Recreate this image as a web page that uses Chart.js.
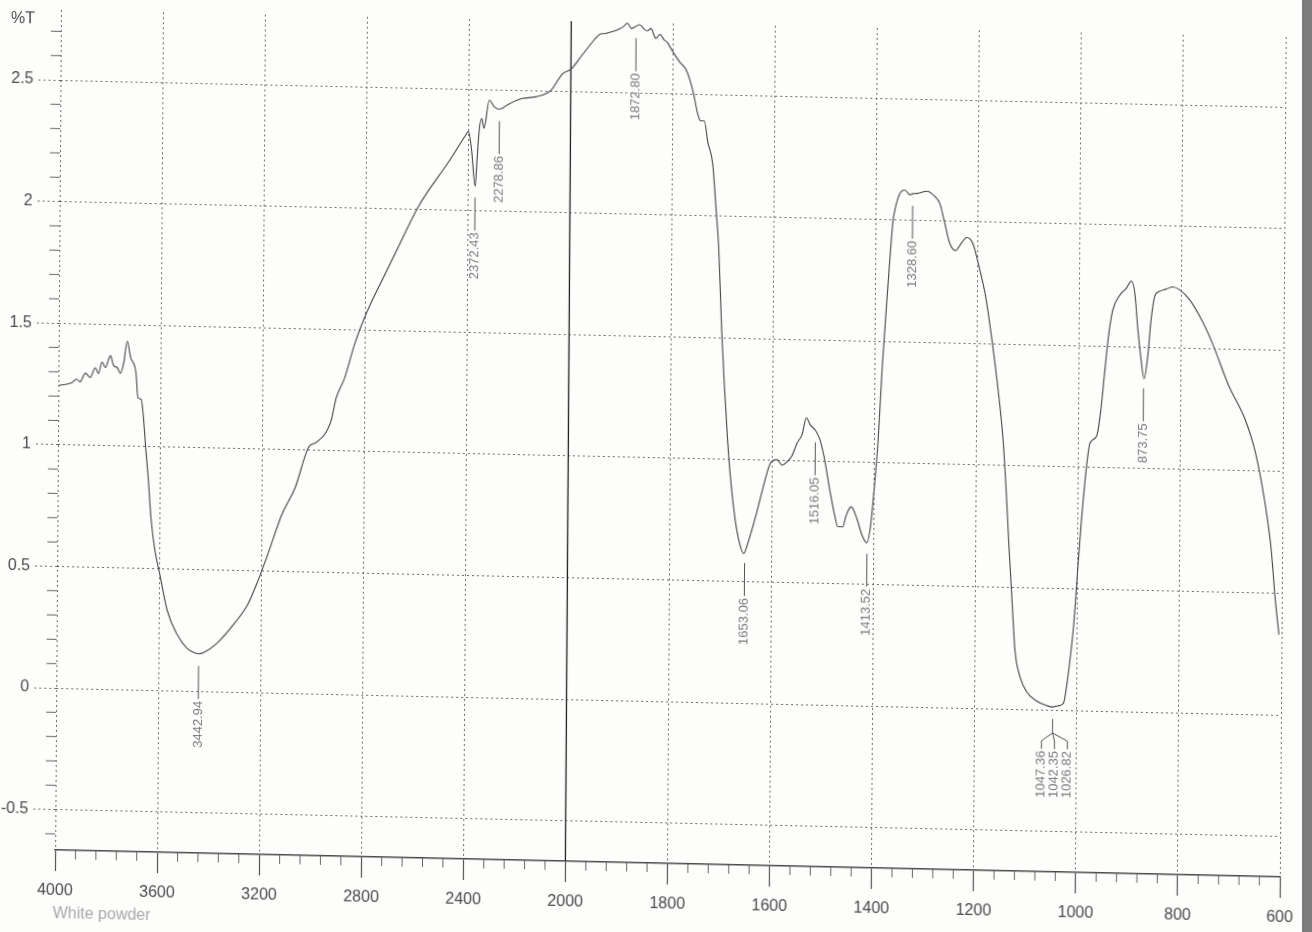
<!DOCTYPE html>
<html>
<head>
<meta charset="utf-8">
<title>IR spectrum</title>
<script src="https://cdn.jsdelivr.net/npm/chart.js@4.4.0/dist/chart.umd.min.js"></script>
<style>
    html, body { margin: 0; padding: 0; background: #fff; overflow: hidden; }
    #wrap { position: relative; width: 1312px; height: 932px; overflow: hidden; background: #fdfdfc; }
    /* 扫描件略有倾斜 */
    #spectrum { position: absolute; left: 0; top: 0; transform-origin: 61px 10px; transform: rotate(0.4deg) skewY(0.86deg); }
    #edge { position: absolute; right: 0; top: 0; width: 10px; height: 932px; background: #7c7c7c; }
</style>
</head>
<body>
<div id="wrap">
    <canvas id="spectrum" width="1312" height="932"></canvas>
    <div id="edge"></div>
</div>
<script>
// 波数 (cm-1)
const wavenumbers = [
    4000, 3948, 3928, 3915, 3895, 3875, 3856, 3843, 3830, 3816, 3797, 3784, 3770, 3757, 3745, 3731, 3718,
    3696, 3688, 3675, 3666, 3656, 3646, 3633, 3617, 3600, 3567, 3528, 3489, 3456, 3443, 3423, 3370, 3305,
    3252, 3213, 3174, 3121, 3069, 3016, 2990, 2931, 2911, 2879, 2839, 2793, 2728, 2662, 2590, 2476, 2410,
    2400, 2387, 2372, 2366, 2358, 2348, 2339, 2319, 2300, 2280, 2241, 2189, 2137, 2078, 2033, 2000, 1980,
    1955, 1944, 1935, 1918, 1906, 1898, 1890, 1882, 1874, 1866, 1857, 1851, 1844, 1834, 1826, 1818, 1812,
    1800, 1787, 1774, 1761, 1750, 1745, 1738, 1731, 1721, 1714, 1708, 1701, 1695, 1688, 1682, 1672, 1664,
    1655, 1646, 1630, 1614, 1604, 1591, 1581, 1571, 1562, 1552, 1542, 1534, 1526, 1516, 1507, 1497, 1487,
    1477, 1471, 1461, 1455, 1445, 1433, 1424, 1414, 1407, 1401, 1393, 1386, 1377, 1367, 1363, 1353, 1344,
    1334, 1328, 1321, 1301, 1285, 1275, 1265, 1256, 1244, 1233, 1222, 1210, 1197, 1184, 1171, 1158, 1148,
    1141, 1135, 1128, 1122, 1112, 1099, 1079, 1059, 1047, 1042, 1035, 1026, 1020, 1014, 1007, 1001, 994,
    984, 978, 965, 958, 948, 942, 935, 922, 909, 899, 892, 886, 879, 873, 866, 860, 853, 844, 831, 818, 805,
    785, 759, 739, 707, 674, 654, 635, 622, 612, 605
];

// 透过率 %T
const transmittance = [
    1.244, 1.256, 1.272, 1.261, 1.297, 1.28, 1.32, 1.297, 1.345, 1.322, 1.371, 1.331, 1.323, 1.30, 1.34, 1.432, 1.367,
    1.302, 1.20, 1.195, 1.123, 0.994, 0.88, 0.702, 0.573, 0.49, 0.328, 0.231, 0.175, 0.156, 0.153, 0.159, 0.200, 0.28,
    0.361, 0.458, 0.571, 0.733, 0.846, 1.016, 1.032, 1.121, 1.218, 1.299, 1.445, 1.574, 1.72, 1.866, 2.02, 2.20, 2.311,
    2.326, 2.248, 2.10, 2.20, 2.33, 2.38, 2.34, 2.456, 2.43, 2.42, 2.443, 2.466, 2.474, 2.502, 2.571, 2.59, 2.645,
    2.713, 2.737, 2.74, 2.75, 2.76, 2.77, 2.785, 2.764, 2.772, 2.78, 2.762, 2.755, 2.765, 2.725, 2.742, 2.72, 2.71,
    2.67, 2.63, 2.598, 2.515, 2.41, 2.39, 2.39, 2.305, 2.215, 2.036, 1.87, 1.528, 1.303, 1.08, 0.93, 0.752, 0.664,
    0.615, 0.664, 0.785, 0.92, 0.988, 1.004, 0.982, 0.997, 1.02, 1.073, 1.111, 1.178, 1.15, 1.128, 1.09, 1.002, 0.883,
    0.779, 0.734, 0.734, 0.779, 0.817, 0.765, 0.705, 0.67, 0.735, 0.87, 1.095, 1.394, 1.694, 1.993, 2.045, 2.113, 2.124,
    2.105, 2.11, 2.111, 2.121, 2.10, 2.07, 1.988, 1.912, 1.88, 1.91, 1.935, 1.91, 1.81, 1.69, 1.51, 1.30, 1.10,
    0.88, 0.66, 0.43, 0.24, 0.134, 0.073, 0.035, 0.017, 0.012, 0.015, 0.018, 0.03, 0.106, 0.21, 0.36, 0.555, 0.77,
    1.01, 1.10, 1.13, 1.22, 1.44, 1.56, 1.65, 1.71, 1.74, 1.77, 1.72, 1.58, 1.45, 1.37, 1.46, 1.61, 1.71, 1.73, 1.74, 1.75, 1.74,
    1.70, 1.61, 1.52, 1.35, 1.21, 1.08, 0.88, 0.69, 0.46, 0.33
];

// 坐标轴刻度
const xTickWavenumbers = [4000, 3600, 3200, 2800, 2400, 2000, 1800, 1600, 1400, 1200, 1000, 800, 600];
const xTickLabels = ['4000', '3600', '3200', '2800', '2400', '2000', '1800', '1600', '1400', '1200', '1000', '800', '600'];
const yTickValues = [-0.5, 0, 0.5, 1, 1.5, 2, 2.5];
const yTickLabels = ['-0.5', '0', '0.5', '1', '1.5', '2', '2.5'];

// 峰位标注 (同组的画成分叉)
const peakGroups = [
    ['3442.94'], ['2372.43'], ['2278.86'], ['1872.80'], ['1653.06'], ['1516.05'],
    ['1413.52'], ['1328.60'], ['1047.36', '1042.35', '1026.82'], ['873.75']
];

const sampleName = 'White powder';
const yTitle = '%T';

// 2000 以下横轴放大一倍, 换算成绘图位置
function toPos(wn) {
    return wn >= 2000 ? (4000 - wn) / 2 : 1000 + (2000 - wn);
}

// 按波数线性插值取谱线上的值
function curveAt(wn) {
    for (let i = 0; i < wavenumbers.length - 1; i++) {
        const a = wavenumbers[i], b = wavenumbers[i + 1];
        if (wn <= a && wn >= b) {
            const t = (a - wn) / (a - b);
            return transmittance[i] + t * (transmittance[i + 1] - transmittance[i]);
        }
    }
    return transmittance[transmittance.length - 1];
}

function drawVerticalLabel(ctx, text, px, py) {
    ctx.save();
    ctx.translate(px, py);
    ctx.rotate(-Math.PI / 2);
    ctx.textAlign = 'right';
    ctx.textBaseline = 'middle';
    ctx.fillText(text, 0, 0);
    ctx.restore();
}

const decorPlugin = {
    id: 'irDecor',
    beforeDatasetsDraw(chart) {
        const { ctx, chartArea, scales: { x, y } } = chart;
        ctx.save();

        // 2000 处实线分界
        const xb = x.getPixelForValue(toPos(2000));
        ctx.strokeStyle = '#1e1e1e';
        ctx.lineWidth = 1.3;
        ctx.beginPath();
        ctx.moveTo(xb, chartArea.top);
        ctx.lineTo(xb, chartArea.bottom);
        ctx.stroke();

        // 次刻度
        ctx.strokeStyle = '#666';
        ctx.lineWidth = 1;
        for (let p = 40; p < 2400; p += 40) {
            if (p % 200 === 0) continue;
            const px = x.getPixelForValue(p);
            ctx.beginPath();
            ctx.moveTo(px, chartArea.bottom);
            ctx.lineTo(px, chartArea.bottom + 9);
            ctx.stroke();
        }
        for (let k = -6; k <= 27; k++) {
            if (k % 5 === 0) continue;
            const py = y.getPixelForValue(k / 10);
            ctx.beginPath();
            ctx.moveTo(chartArea.left - 10, py);
            ctx.lineTo(chartArea.left, py);
            ctx.stroke();
        }
        ctx.restore();
    },
    afterDatasetsDraw(chart) {
        const { ctx, scales: { x, y } } = chart;
        ctx.save();

        // 峰位标注
        ctx.strokeStyle = '#555';
        ctx.fillStyle = '#7a7a7a';
        ctx.lineWidth = 1;
        ctx.font = '13px "Liberation Sans", Arial, sans-serif';
        peakGroups.forEach(group => {
            const x0 = x.getPixelForValue(toPos(parseFloat(group[0])));
            const low = Math.min(...group.map(l => curveAt(parseFloat(l))));
            const y0 = y.getPixelForValue(low) + 12;
            if (group.length === 1) {
                ctx.beginPath();
                ctx.moveTo(x0, y0);
                ctx.lineTo(x0, y0 + 33);
                ctx.stroke();
                drawVerticalLabel(ctx, group[0], x0, y0 + 35);
            } else {
                ctx.beginPath();
                ctx.moveTo(x0, y0);
                ctx.lineTo(x0, y0 + 14);
                ctx.stroke();
                group.forEach((label, i) => {
                    const xi = x0 - 11 + i * 13;
                    ctx.beginPath();
                    ctx.moveTo(x0, y0 + 14);
                    ctx.lineTo(xi, y0 + 22);
                    ctx.lineTo(xi, y0 + 30);
                    ctx.stroke();
                    drawVerticalLabel(ctx, label, xi, y0 + 32);
                });
            }
        });

        // 纵轴单位和样品名
        ctx.font = '16px "Liberation Sans", Arial, sans-serif';
        ctx.fillStyle = '#4a4a4a';
        ctx.textAlign = 'left';
        ctx.textBaseline = 'middle';
        ctx.fillText(yTitle, 11, 20);
        ctx.fillStyle = '#a8a8a8';
        ctx.fillText(sampleName, 59, 914);
        ctx.restore();
    }
};

const points = wavenumbers.map((wn, i) => ({ x: toPos(wn), y: transmittance[i] }));

const gridColor = 'rgba(60, 60, 60, 0.75)';

new Chart(document.getElementById('spectrum').getContext('2d'), {
    type: 'line',
    data: {
        datasets: [{
            data: points,
            borderColor: '#454545',
            borderWidth: 1.1,
            pointRadius: 0,
            fill: false,
            cubicInterpolationMode: 'monotone'
        }]
    },
    options: {
        responsive: false,
        animation: false,
        devicePixelRatio: 1,
        layout: { padding: { top: 10, right: 26, left: 0, bottom: 0 } },
        plugins: {
            legend: { display: false },
            tooltip: { enabled: false }
        },
        scales: {
            x: {
                type: 'linear',
                min: 0,
                max: 2400,
                afterBuildTicks: scale => {
                    scale.ticks = xTickWavenumbers.map(wn => ({ value: toPos(wn) }));
                },
                afterFit: scale => {
                    scale.height = 82;
                    scale.paddingLeft = 0;
                    scale.paddingRight = 0;
                },
                grid: { color: gridColor, lineWidth: 1, tickLength: 21, tickColor: '#555', tickWidth: 1.2 },
                border: { display: true, color: '#4a4a4a', width: 1.6, dash: [2, 3] },
                ticks: {
                    font: { family: 'Liberation Sans', size: 16 },
                    color: '#4a4a4a',
                    padding: 10,
                    maxRotation: 0,
                    autoSkip: false,
                    callback: (value, index) => xTickLabels[index]
                }
            },
            y: {
                type: 'linear',
                min: -0.666,
                max: 2.788,
                afterBuildTicks: scale => {
                    scale.ticks = yTickValues.map(v => ({ value: v }));
                },
                afterFit: scale => {
                    scale.width = 61;
                    scale.paddingTop = 0;
                    scale.paddingBottom = 0;
                },
                grid: { color: gridColor, lineWidth: 1, tickLength: 22, tickColor: gridColor, tickBorderDash: [2, 3] },
                border: { display: false, dash: [2, 3] },
                ticks: {
                    font: { family: 'Liberation Sans', size: 16 },
                    color: '#4a4a4a',
                    padding: 5,
                    callback: (value, index) => yTickLabels[index]
                }
            }
        }
    },
    plugins: [decorPlugin]
});
</script>
</body>
</html>
